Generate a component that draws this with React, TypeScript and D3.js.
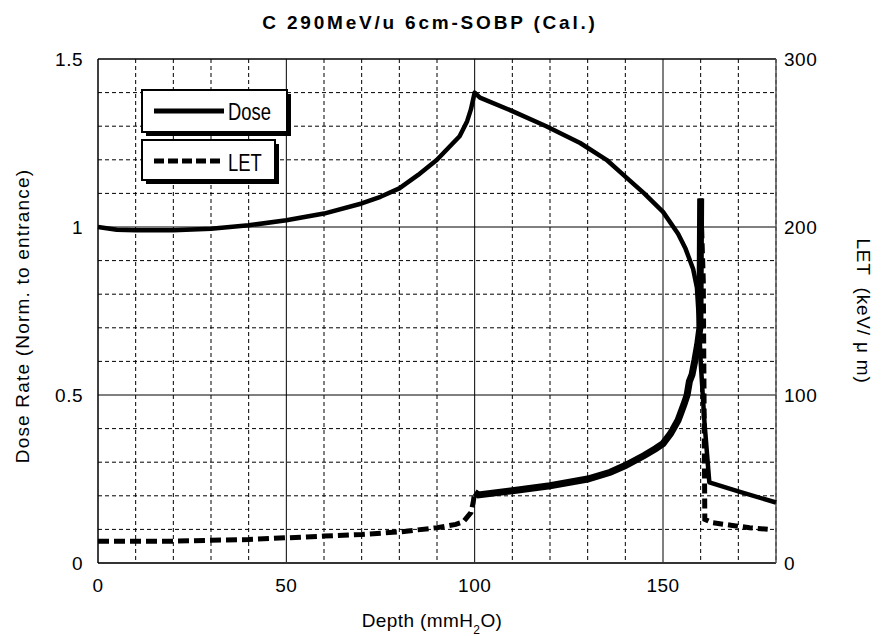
import React from 'react'
import * as d3 from 'd3'

// depth (mm H2O) and dose (normalised to entrance)
const doseDepth = [0, 5, 10, 20, 30, 40, 50, 60, 70, 75, 80, 85, 90, 93, 96, 98, 99, 100, 101.4, 110, 119, 128, 135, 140, 145, 150, 154, 156, 158, 159, 159.5, 160, 161, 162.3, 170, 180]
const doseValues = [1.0, 0.992, 0.99, 0.99, 0.995, 1.005, 1.02, 1.04, 1.07, 1.09, 1.115, 1.155, 1.2, 1.235, 1.27, 1.315, 1.35, 1.4, 1.385, 1.345, 1.3, 1.25, 1.2, 1.15, 1.1, 1.045, 0.98, 0.935, 0.875, 0.82, 0.73, 0.6, 0.42, 0.24, 0.213, 0.18]

// depth and LET (keV/um)
const letDepth = [0, 10, 20, 30, 40, 50, 60, 70, 80, 90, 95, 97, 99, 99.6, 100, 101, 110, 120, 130, 136, 140, 145, 148, 150, 152, 154, 155.5, 156.4, 157, 157.7, 158.5, 159.2, 159.8, 160, 160.7, 161.1, 163, 168, 173, 178]
const letValues = [13, 13, 13, 13.5, 14, 15, 16, 17, 18.5, 21, 23, 24.5, 30, 36, 42, 40.5, 43, 46, 50, 54, 58, 64, 68, 71, 77, 85, 94, 100, 108, 112, 121, 130, 140, 217, 168, 26, 24, 22.5, 21, 20]

const xTicks = [0, 50, 100, 150]
const doseTicks = [0, 0.5, 1, 1.5]
const doseTickLabels = ['0', '0.5', '1', '1.5']
const letTicks = [0, 100, 200, 300]

const W = 883, H = 636
const m = { left: 98, right: 776, top: 59, bottom: 563 }

const App = () => {
  const x = d3.scaleLinear().domain([0, 180]).range([m.left, m.right])
  const y = d3.scaleLinear().domain([0, 1.5]).range([m.bottom, m.top])
  const y2 = d3.scaleLinear().domain([0, 300]).range([m.bottom, m.top])

  const dose = doseDepth.map((d, i) => [d, doseValues[i]] as [number, number])
  const let_ = letDepth.map((d, i) => [d, letValues[i]] as [number, number])

  const doseLine = d3.line<[number, number]>().x(d => x(d[0])).y(d => y(d[1]))
  const letLine = d3.line<[number, number]>().x(d => x(d[0])).y(d => y2(d[1]))

  // the LET curve looks solid where its points are dense (plateau to spike)
  const letLow = let_.filter(d => d[0] <= 100)
  const letMid = let_.filter(d => d[0] >= 100 && d[0] <= 160)
  const letTail = let_.filter(d => d[0] >= 160)

  const vGrid = d3.range(10, 181, 10).filter(v => v % 50 !== 0)
  const hGrid = d3.range(1, 15).map(v => v / 10).filter(v => Math.round(v * 10) % 5 !== 0)

  const font = 'Liberation Sans, Arial, sans-serif'

  return (
    <svg width={W} height={H} style={{ position: 'absolute', left: 0, top: 0, background: '#fff' }}>
      <text x={430} y={29} textAnchor="middle" fontFamily={font} fontWeight="bold" fontSize={19} letterSpacing={2.8}>
        C 290MeV/u 6cm-SOBP (Cal.)
      </text>

      {/* grid */}
      <g stroke="#000" strokeWidth={1} strokeDasharray="4,3" fill="none">
        {vGrid.map(v => (
          <line key={'v' + v} x1={x(v)} x2={x(v)} y1={m.top} y2={m.bottom} />
        ))}
        {hGrid.map(v => (
          <line key={'h' + v} x1={m.left} x2={m.right} y1={y(v)} y2={y(v)} />
        ))}
      </g>
      <g stroke="#000" strokeWidth={1}>
        {[50, 100, 150].map(v => (
          <line key={'V' + v} x1={x(v)} x2={x(v)} y1={m.top} y2={m.bottom} />
        ))}
        {[0.5, 1].map(v => (
          <line key={'H' + v} x1={m.left} x2={m.right} y1={y(v)} y2={y(v)} />
        ))}
      </g>
      {/* frame */}
      <line x1={m.left} x2={m.right} y1={m.top} y2={m.top} stroke="#000" strokeWidth={1.5} />
      <line x1={m.left} x2={m.right} y1={m.bottom} y2={m.bottom} stroke="#333" strokeWidth={2} />
      <line x1={m.left} x2={m.left} y1={m.top} y2={m.bottom} stroke="#000" strokeWidth={1.5} />
      <line x1={m.right} x2={m.right} y1={m.top} y2={m.bottom} stroke="#555" strokeWidth={1.5} />

      {/* curves */}
      <path d={doseLine(dose) || ''} fill="none" stroke="#000" strokeWidth={4.5} strokeLinejoin="round" />
      <path d={letLine(letLow) || ''} fill="none" stroke="#000" strokeWidth={5} strokeDasharray="11,5" />
      <path d={letLine(letMid) || ''} fill="none" stroke="#000" strokeWidth={7} strokeLinejoin="miter" />
      <path d={letLine(letTail) || ''} fill="none" stroke="#000" strokeWidth={5} strokeDasharray="10,5" />

      {/* tick labels */}
      <g fontFamily={font} fontSize={19}>
        {xTicks.map(v => (
          <text key={'x' + v} x={x(v)} y={592} textAnchor="middle" letterSpacing={0.5}>{v}</text>
        ))}
        {doseTicks.map((v, i) => (
          <text key={'y' + v} x={83} y={y(v) + 7} textAnchor="end" letterSpacing={0.5}>{doseTickLabels[i]}</text>
        ))}
        {letTicks.map(v => (
          <text key={'r' + v} x={784} y={y2(v) + 7} textAnchor="start" letterSpacing={0.5}>{v}</text>
        ))}
      </g>

      {/* axis titles */}
      <text fontFamily={font} fontSize={19} textAnchor="middle" x={432} y={627} letterSpacing={0.4}>
        Depth (mmH<tspan fontSize={12} dy={7}>2</tspan><tspan dy={-7}>O)</tspan>
      </text>
      <text fontFamily={font} fontSize={19} textAnchor="middle" letterSpacing={1.2} transform={`translate(29,${(m.top + m.bottom) / 2 + 5}) rotate(-90)`}>
        Dose Rate (Norm. to entrance)
      </text>
      <text fontFamily={font} fontSize={19} textAnchor="middle" letterSpacing={0.8} transform={`translate(857,${(m.top + m.bottom) / 2}) rotate(90)`} xmlSpace="preserve">
        LET  (keV/ μ m)
      </text>

      {/* legend */}
      <g>
        <rect x={146} y={94} width={145} height={42} fill="#000" />
        <rect x={142} y={90} width={145} height={42} fill="#fff" stroke="#000" strokeWidth={2} />
        <line x1={154} x2={224} y1={111} y2={111} stroke="#000" strokeWidth={5} />
        <text fontFamily={font} fontSize={23} transform="translate(228,120) scale(0.8,1)">Dose</text>

        <rect x={146} y={144} width={133} height={40} fill="#000" />
        <rect x={142} y={140} width={133} height={40} fill="#fff" stroke="#000" strokeWidth={2} />
        <line x1={154} x2={224} y1={161} y2={161} stroke="#000" strokeWidth={5} strokeDasharray="10,4" />
        <text fontFamily={font} fontSize={23} transform="translate(228,171) scale(0.8,1)">LET</text>
      </g>
    </svg>
  )
}

export default App
